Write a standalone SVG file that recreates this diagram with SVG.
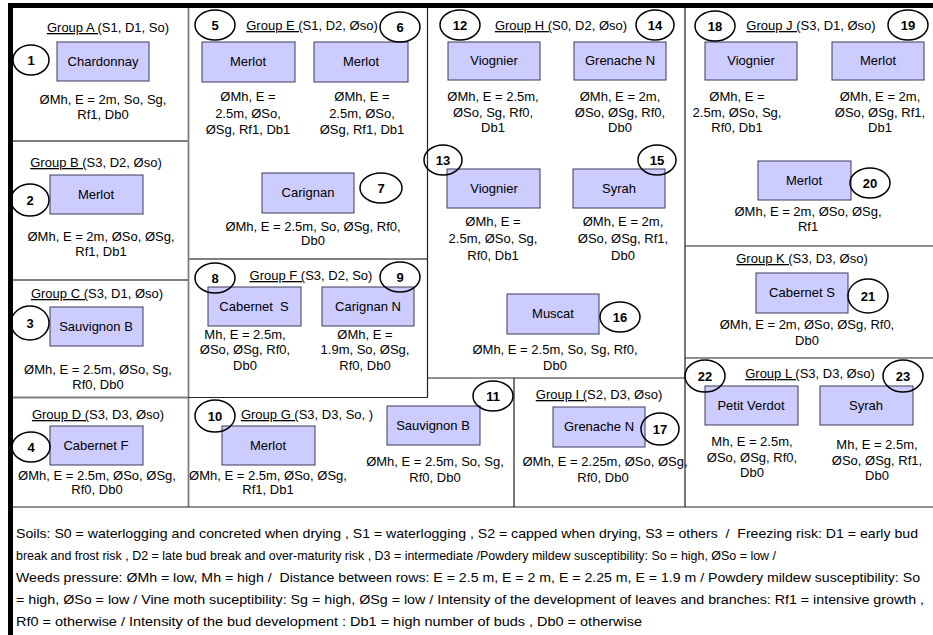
<svg xmlns="http://www.w3.org/2000/svg" width="933" height="635" viewBox="0 0 933 635">
<style>
text{font-family:"Liberation Sans",Arial,sans-serif;font-size:13px;fill:#000;text-anchor:middle}
.box{fill:#CCCCFF;stroke:#3a3a5a;stroke-width:1}
.num{fill:none;stroke:#000;stroke-width:1.5}
.nt{font-weight:bold}
.u{text-decoration:underline}
.gl{stroke:#7f7f7f;stroke-width:1.8;fill:none}
.bl{stroke:#222;stroke-width:1.2;fill:none}
.lg{text-anchor:start;font-size:13px}
</style>
<rect width="933" height="635" fill="#fff"/>
<g id="frame">
<rect x="8" y="3" width="925" height="5" fill="#000"/>
<rect x="8" y="3" width="5" height="632" fill="#000"/>
</g>
<g id="connectors">
<path class="gl" d="M188.5 8V507M13 141H188.5M13 280H188.5M13 397.5H188.5M188.5 259H427.5"/>
<path class="bl" d="M427.5 8V397.5M188.5 397.5H427.5M427.5 378H685M514 378V507M685 8V507M685 246H933M685 358H933M13 507H933"/>
</g>
<g id="groupA"><text x="108" y="32"><tspan class="u">Group A (</tspan>S1, D1, So)</text></g>
<g id="groupB"><text x="96" y="167"><tspan class="u">Group B (</tspan>S3, D2, Øso)</text></g>
<g id="groupC"><text x="97" y="298"><tspan class="u">Group C (</tspan>S3, D1, Øso)</text></g>
<g id="groupD"><text x="98" y="419"><tspan class="u">Group D (</tspan>S3, D3, Øso)</text></g>
<g id="groupE"><text x="312" y="30"><tspan class="u">Group E (</tspan>S1, D2, Øso)</text></g>
<g id="groupF"><text x="311" y="280"><tspan class="u">Group F (</tspan>S3, D2, So)</text></g>
<g id="groupG"><text x="307" y="419"><tspan class="u">Group G (</tspan>S3, D3, So, )</text></g>
<g id="groupH"><text x="561" y="30"><tspan class="u">Group H (</tspan>S0, D2, Øso)</text></g>
<g id="groupI"><text x="599" y="399"><tspan class="u">Group I (</tspan>S2, D3, Øso)</text></g>
<g id="groupJ"><text x="811" y="30"><tspan class="u">Group J (</tspan>S3, D1, Øso)</text></g>
<g id="groupK"><text x="802" y="263"><tspan class="u">Group K (</tspan>S3, D3, Øso)</text></g>
<g id="groupL"><text x="810" y="378"><tspan class="u">Group L (</tspan>S3, D3, Øso)</text></g>

<g id="n1"><rect class="box" x="57" y="42" width="92" height="39"/><text x="103" y="66">Chardonnay</text>
<text x="103" y="104">ØMh, E = 2m, So, Sg,<tspan x="103" dy="15">Rf1, Db0</tspan></text>
<ellipse class="num" cx="31" cy="60" rx="18" ry="15"/><text class="nt" x="31" y="65">1</text></g>

<g id="n2"><rect class="box" x="50" y="175" width="93" height="39"/><text x="96" y="199">Merlot</text>
<text x="101" y="241">ØMh, E = 2m, ØSo, ØSg,<tspan x="101" dy="15">Rf1, Db1</tspan></text>
<ellipse class="num" cx="30" cy="200" rx="19" ry="16"/><text class="nt" x="30" y="205">2</text></g>

<g id="n3"><rect class="box" x="50" y="307" width="93" height="39"/><text x="96" y="331">Sauvignon B</text>
<text x="98" y="374">ØMh, E = 2.5m, ØSo, Sg,<tspan x="98" dy="15">Rf0, Db0</tspan></text>
<ellipse class="num" cx="30" cy="323" rx="19" ry="17"/><text class="nt" x="30" y="328">3</text></g>

<g id="n4"><rect class="box" x="50" y="426" width="93" height="39"/><text x="96" y="450">Cabernet F</text>
<text x="97" y="480">ØMh, E = 2.5m, ØSo, ØSg,<tspan x="97" dy="14">Rf0, Db0</tspan></text>
<ellipse class="num" cx="31" cy="447" rx="19" ry="15"/><text class="nt" x="31" y="452">4</text></g>

<g id="n5"><rect class="box" x="202" y="42" width="93" height="40"/><text x="248" y="66">Merlot</text>
<text x="248" y="101">ØMh, E =<tspan x="248" dy="16.5">2.5m, ØSo,</tspan><tspan x="248" dy="16.5">ØSg, Rf1, Db1</tspan></text>
<ellipse class="num" cx="215" cy="25" rx="20" ry="15"/><text class="nt" x="215" y="30">5</text></g>

<g id="n6"><rect class="box" x="314" y="42" width="94" height="40"/><text x="361" y="66">Merlot</text>
<text x="362" y="101">ØMh, E =<tspan x="362" dy="16.5">2.5m, ØSo,</tspan><tspan x="362" dy="16.5">ØSg, Rf1, Db1</tspan></text>
<ellipse class="num" cx="400" cy="27" rx="20" ry="15"/><text class="nt" x="400" y="32">6</text></g>

<g id="n7"><rect class="box" x="262" y="173" width="92" height="40"/><text x="308" y="197">Carignan</text>
<text x="313" y="231">ØMh, E = 2.5m, So, ØSg, Rf0,<tspan x="313" dy="14">Db0</tspan></text>
<ellipse class="num" cx="381" cy="188" rx="21" ry="15"/><text class="nt" x="381" y="193">7</text></g>

<g id="n8"><rect class="box" x="208" y="287" width="93" height="39"/><text x="254" y="311" xml:space="preserve">Cabernet  S</text>
<text x="245" y="339">Mh, E = 2.5m,<tspan x="245" dy="15">ØSo, ØSg, Rf0,</tspan><tspan x="245" dy="16">Db0</tspan></text>
<ellipse class="num" cx="215" cy="278" rx="20" ry="15"/><text class="nt" x="215" y="283">8</text></g>

<g id="n9"><rect class="box" x="322" y="287" width="92" height="39"/><text x="368" y="311">Carignan N</text>
<text x="365" y="339">ØMh, E =<tspan x="365" dy="15">1.9m, So, ØSg,</tspan><tspan x="365" dy="16">Rf0, Db0</tspan></text>
<ellipse class="num" cx="400" cy="277" rx="20" ry="15"/><text class="nt" x="400" y="282">9</text></g>

<g id="n10"><rect class="box" x="222" y="426" width="93" height="39"/><text x="268" y="450">Merlot</text>
<text x="268" y="480">ØMh, E = 2.5m, ØSo, ØSg,<tspan x="268" dy="14">Rf1, Db1</tspan></text>
<ellipse class="num" cx="215" cy="416" rx="20" ry="16"/><text class="nt" x="215" y="421">10</text></g>

<g id="n11"><rect class="box" x="387" y="406" width="93" height="39"/><text x="433" y="430">Sauvignon B</text>
<text x="435" y="466">ØMh, E = 2.5m, So, Sg,<tspan x="435" dy="16">Rf0, Db0</tspan></text>
<ellipse class="num" cx="493" cy="396" rx="20" ry="15"/><text class="nt" x="493" y="401">11</text></g>

<g id="n12"><rect class="box" x="448" y="42" width="92" height="38"/><text x="494" y="65">Viognier</text>
<text x="493" y="101">ØMh, E = 2.5m,<tspan x="493" dy="16">ØSo, Sg, Rf0,</tspan><tspan x="493" dy="15">Db1</tspan></text>
<ellipse class="num" cx="460" cy="25" rx="20" ry="15"/><text class="nt" x="460" y="30">12</text></g>

<g id="n13"><rect class="box" x="447" y="169" width="93" height="39"/><text x="494" y="193">Viognier</text>
<text x="493" y="226">ØMh, E =<tspan x="493" dy="17">2.5m, ØSo, Sg,</tspan><tspan x="493" dy="17">Rf0, Db1</tspan></text>
<ellipse class="num" cx="443" cy="160" rx="19" ry="15"/><text class="nt" x="443" y="165">13</text></g>

<g id="n14"><rect class="box" x="574" y="42" width="92" height="38"/><text x="620" y="65">Grenache N</text>
<text x="620" y="101">ØMh, E = 2m,<tspan x="620" dy="16">ØSo, ØSg, Rf0,</tspan><tspan x="620" dy="15">Db0</tspan></text>
<ellipse class="num" cx="655" cy="25" rx="19" ry="15"/><text class="nt" x="655" y="30">14</text></g>

<g id="n15"><rect class="box" x="573" y="169" width="92" height="39"/><text x="619" y="193">Syrah</text>
<text x="623" y="226">ØMh, E = 2m,<tspan x="623" dy="17">ØSo, ØSg, Rf1,</tspan><tspan x="623" dy="17">Db0</tspan></text>
<ellipse class="num" cx="657" cy="160" rx="19" ry="15"/><text class="nt" x="657" y="165">15</text></g>

<g id="n16"><rect class="box" x="507" y="294" width="92" height="40"/><text x="553" y="318">Muscat</text>
<text x="555" y="354">ØMh, E = 2.5m, So, Sg, Rf0,<tspan x="555" dy="16">Db0</tspan></text>
<ellipse class="num" cx="620" cy="317" rx="20" ry="15"/><text class="nt" x="620" y="322">16</text></g>

<g id="n17"><rect class="box" x="553" y="407" width="92" height="40"/><text x="599" y="431">Grenache N</text>
<text x="605" y="466">ØMh, E = 2.25m, ØSo, ØSg,<tspan x="603" dy="16">Rf0, Db0</tspan></text>
<ellipse class="num" cx="660" cy="429" rx="19" ry="16"/><text class="nt" x="660" y="434">17</text></g>

<g id="n18"><rect class="box" x="705" y="42" width="92" height="38"/><text x="751" y="65">Viognier</text>
<text x="737" y="101">ØMh, E =<tspan x="737" dy="16">2.5m, ØSo, Sg,</tspan><tspan x="737" dy="15">Rf0, Db1</tspan></text>
<ellipse class="num" cx="715" cy="26" rx="20" ry="15"/><text class="nt" x="715" y="31">18</text></g>

<g id="n19"><rect class="box" x="832" y="42" width="92" height="38"/><text x="878" y="65">Merlot</text>
<text x="880" y="101">ØMh, E = 2m,<tspan x="880" dy="16">ØSo, ØSg, Rf1,</tspan><tspan x="880" dy="15">Db1</tspan></text>
<ellipse class="num" cx="908" cy="25" rx="20" ry="15"/><text class="nt" x="908" y="30">19</text></g>

<g id="n20"><rect class="box" x="758" y="161" width="93" height="39"/><text x="804" y="185">Merlot</text>
<text x="808" y="216">ØMh, E = 2m, ØSo, ØSg,<tspan x="808" dy="15">Rf1</tspan></text>
<ellipse class="num" cx="870" cy="183" rx="20" ry="15"/><text class="nt" x="870" y="188">20</text></g>

<g id="n21"><rect class="box" x="756" y="273" width="92" height="40"/><text x="802" y="297">Cabernet S</text>
<text x="807" y="329">ØMh, E = 2m, ØSo, ØSg, Rf0,<tspan x="807" dy="16">Db0</tspan></text>
<ellipse class="num" cx="868" cy="296" rx="20" ry="17"/><text class="nt" x="868" y="301">21</text></g>

<g id="n22"><rect class="box" x="705" y="386" width="93" height="39"/><text x="751" y="410">Petit Verdot</text>
<text x="752" y="446">Mh, E = 2.5m,<tspan x="752" dy="15.5">ØSo, ØSg, Rf0,</tspan><tspan x="752" dy="15.5">Db0</tspan></text>
<ellipse class="num" cx="705" cy="376" rx="20" ry="16"/><text class="nt" x="705" y="381">22</text></g>

<g id="n23"><rect class="box" x="820" y="386" width="93" height="39"/><text x="866" y="410">Syrah</text>
<text x="877" y="449">Mh, E = 2.5m,<tspan x="877" dy="15.5">ØSo, ØSg, Rf1,</tspan><tspan x="877" dy="15.5">Db0</tspan></text>
<ellipse class="num" cx="903" cy="376" rx="20" ry="16"/><text class="nt" x="903" y="381">23</text></g>

<g id="legend">
<text class="lg" x="16" y="538" textLength="902" lengthAdjust="spacingAndGlyphs" xml:space="preserve">Soils: S0 = waterlogging and concreted when drying , S1 = waterlogging , S2 = capped when drying, S3 = others  /  Freezing risk: D1 = early bud</text>
<text class="lg" x="16" y="560" textLength="760" lengthAdjust="spacingAndGlyphs">break and frost risk , D2 = late bud break and over-maturity risk , D3 = intermediate /Powdery mildew susceptibility: So = high, ØSo = low /</text>
<text class="lg" x="16" y="582" textLength="904" lengthAdjust="spacingAndGlyphs" xml:space="preserve">Weeds pressure: ØMh = low, Mh = high /  Distance between rows: E = 2.5 m, E = 2 m, E = 2.25 m, E = 1.9 m / Powdery mildew susceptibility: So</text>
<text class="lg" x="16" y="604" textLength="908" lengthAdjust="spacingAndGlyphs">= high, ØSo = low / Vine moth suceptibility: Sg = high, ØSg = low / Intensity of the development of leaves and branches: Rf1 = intensive growth ,</text>
<text class="lg" x="16" y="626" textLength="626" lengthAdjust="spacingAndGlyphs">Rf0 = otherwise / Intensity of the bud development : Db1 = high number of buds , Db0 = otherwise</text>
</g>
</svg>
